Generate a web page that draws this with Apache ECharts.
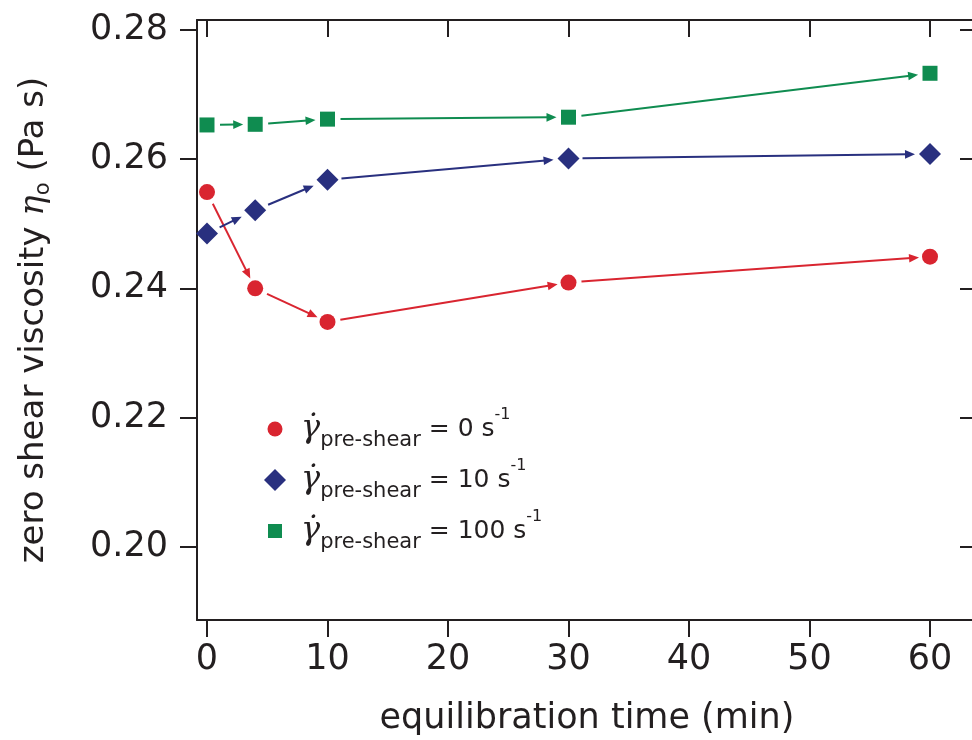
<!DOCTYPE html>
<html><head><meta charset="utf-8">
<script src="https://cdn.jsdelivr.net/npm/echarts@6/dist/echarts.min.js"></script>
<style>html,body{margin:0;padding:0;background:#fff}#c{width:972px;height:740px}</style>
</head><body><div id="c"></div>
<script>
// ---- data ----
const times = [0, 4, 10, 30, 60];
const preShearRates = ['0', '10', '100'];
const visc0 = [0.2549, 0.2400, 0.2348, 0.2409, 0.2449];
const visc10 = [0.2485, 0.2521, 0.2568, 0.2601, 0.2608];
const visc100 = [0.2653, 0.2654, 0.2662, 0.2665, 0.2733];
const xTicks = [0, 10, 20, 30, 40, 50, 60];
const yTicks = [0.20, 0.22, 0.24, 0.26, 0.28];

const xMin = -0.83, xMax = 63.9;
const yMin = 0.18865, yMax = 0.28155;

const RED = '#d92530', BLUE = '#29307f', GREEN = '#0f8c50';
const INK = '#231f20';
const FONT = 'DejaVu Sans';

function pairs(vals) { return times.map((t, i) => [t, vals[i]]); }
function segs(vals) {
  const out = [];
  for (let i = 0; i < times.length - 1; i++) out.push([times[i], vals[i], times[i + 1], vals[i + 1]]);
  return out;
}
function arrowSeries(vals, color, gapStart, gapEnd) {
  return {
    type: 'custom', silent: true, z: 2,
    encode: { x: [0, 2], y: [1, 3] },
    data: segs(vals),
    renderItem: function (params, api) {
      const p0 = api.coord([api.value(0), api.value(1)]);
      const p1 = api.coord([api.value(2), api.value(3)]);
      const dx = p1[0] - p0[0], dy = p1[1] - p0[1];
      const L = Math.sqrt(dx * dx + dy * dy);
      const ux = dx / L, uy = dy / L, px = -uy, py = ux;
      const s = [p0[0] + ux * gapStart, p0[1] + uy * gapStart];
      const e = [p1[0] - ux * gapEnd, p1[1] - uy * gapEnd];
      const al = 10, aw = 4.3;
      const b = [e[0] - ux * al, e[1] - uy * al];
      return {
        type: 'group',
        children: [
          { type: 'line', shape: { x1: s[0], y1: s[1], x2: b[0] + ux * 2, y2: b[1] + uy * 2 }, style: { stroke: color, lineWidth: 2 } },
          { type: 'polygon', shape: { points: [e, [b[0] + px * aw, b[1] + py * aw], [b[0] - px * aw, b[1] - py * aw]] }, style: { fill: color } }
        ]
      };
    }
  };
}

const chart = echarts.init(document.getElementById('c'), null, { renderer: 'canvas' });
const axisLineStyle = { color: INK, width: 2 };
const option = {
  backgroundColor: '#fff',
  animation: false,
  grid: { left: 197, top: 20, width: 780, height: 600, outerBoundsMode: 'none', containLabel: false },
  xAxis: [
    {
      type: 'value', min: xMin, max: xMax, position: 'bottom',
      axisLine: { show: true, onZero: false, lineStyle: axisLineStyle },
      axisTick: { show: true, inside: false, length: 17, lineStyle: axisLineStyle, customValues: xTicks },
      axisLabel: { customValues: xTicks, margin: 22, fontSize: 35, fontFamily: FONT, color: INK },
      splitLine: { show: false },
      name: 'equilibration time (min)', nameLocation: 'middle', nameGap: 81,
      nameTextStyle: { fontSize: 35, fontFamily: FONT, color: INK }
    },
    {
      type: 'value', min: xMin, max: xMax, position: 'top',
      axisLine: { show: true, onZero: false, lineStyle: axisLineStyle },
      axisTick: { show: true, inside: true, length: 17, lineStyle: axisLineStyle, customValues: xTicks },
      axisLabel: { show: false }, splitLine: { show: false }
    }
  ],
  yAxis: [
    {
      type: 'value', min: yMin, max: yMax, position: 'left',
      axisLine: { show: true, onZero: false, lineStyle: axisLineStyle },
      axisTick: { show: true, inside: false, length: 17, lineStyle: axisLineStyle, customValues: yTicks },
      axisLabel: { customValues: yTicks, margin: 29, fontSize: 35, fontFamily: FONT, color: INK, formatter: v => v.toFixed(2) },
      splitLine: { show: false },
      name: '{a|zero shear viscosity }{e|η}{o|o}{a| (Pa s)}',
      nameLocation: 'middle', nameGap: 143, nameRotate: 90,
      nameTextStyle: {
        color: INK,
        rich: {
          a: { fontSize: 34, fontFamily: FONT, color: INK, lineHeight: 40 },
          e: { fontSize: 34, fontFamily: 'DejaVu Serif', fontStyle: 'italic', color: INK, lineHeight: 40 },
          o: { fontSize: 21, fontFamily: FONT, color: INK, lineHeight: 26, verticalAlign: 'bottom' }
        }
      }
    },
    {
      type: 'value', min: yMin, max: yMax, position: 'right',
      axisLine: { show: false, onZero: false },
      axisTick: { show: true, inside: true, length: 17, lineStyle: axisLineStyle, customValues: yTicks },
      axisLabel: { show: false }, splitLine: { show: false }
    }
  ],
  legend: {
    orient: 'vertical', left: 259, top: 402, itemGap: 7,
    itemWidth: 22, itemHeight: 22, symbolKeepAspect: true,
    data: [
      { name: '0', icon: 'path://M0,0M22,22M18.5,11A7.5,7.5,0,1,1,3.5,11A7.5,7.5,0,1,1,18.5,11Z' },
      { name: '10', icon: 'path://M11,0L22,11L11,22L0,11Z' },
      { name: '100', icon: 'path://M0,0M22,22M4,4L18,4L18,18L4,18Z' }
    ],
    formatter: name => '{g|γ̇}{sub|pre-shear}{t| = ' + name + ' s}{sup|-1}',
    textStyle: {
      color: INK,
      rich: {
        g: { fontSize: 32, fontFamily: 'DejaVu Serif', fontStyle: 'italic', color: INK, lineHeight: 44, padding: [0, 0, 0, 10] },
        sub: { fontSize: 21, fontFamily: FONT, color: INK, lineHeight: 26, verticalAlign: 'bottom' },
        t: { fontSize: 25, fontFamily: FONT, color: INK, lineHeight: 44 },
        sup: { fontSize: 16, fontFamily: FONT, color: INK, lineHeight: 18, verticalAlign: 'top' }
      }
    }
  },
  series: [
    arrowSeries(visc0, RED, 13, 11),
    arrowSeries(visc10, BLUE, 14, 15),
    arrowSeries(visc100, GREEN, 13, 12),
    { name: '0', type: 'scatter', z: 3, symbol: 'circle', symbolSize: 16, itemStyle: { color: RED, opacity: 1 }, data: pairs(visc0) },
    { name: '10', type: 'scatter', z: 3, symbol: 'diamond', symbolSize: 22, itemStyle: { color: BLUE, opacity: 1 }, data: pairs(visc10) },
    { name: '100', type: 'scatter', z: 3, symbol: 'rect', symbolSize: 15, itemStyle: { color: GREEN, opacity: 1 }, data: pairs(visc100) }
  ]
};
chart.setOption(option);
</script>
</body></html>
